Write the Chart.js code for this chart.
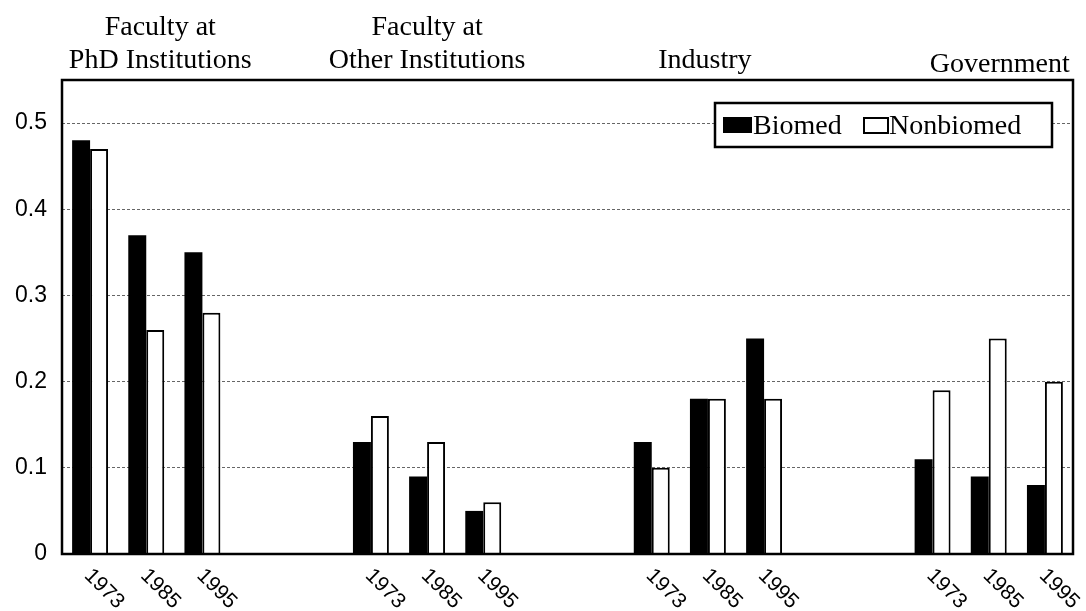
<!DOCTYPE html>
<html>
<head>
<meta charset="utf-8">
<script src="https://cdn.jsdelivr.net/npm/chart.js@4/dist/chart.umd.min.js"></script>
<style>
  body { margin: 0; background: #fff; }
</style>
</head>
<body>
<canvas id="chart" width="1086" height="611"></canvas>
<script>
// Categories: three years per sector, blank slots make the gaps between sectors
const categories = ['1973', '1985', '1995', '', '',
                    '1973', '1985', '1995', '', '',
                    '1973', '1985', '1995', '', '',
                    '1973', '1985', '1995'];

const biomed = [0.48, 0.37, 0.35, null, null,
                0.13, 0.09, 0.05, null, null,
                0.13, 0.18, 0.25, null, null,
                0.11, 0.09, 0.08];

const nonbiomed = [0.47, 0.26, 0.28, null, null,
                   0.16, 0.13, 0.06, null, null,
                   0.10, 0.18, 0.18, null, null,
                   0.19, 0.25, 0.20];

const groupTitles = [
  ['Faculty at', 'PhD Institutions'],
  ['Faculty at', 'Other Institutions'],
  ['Industry'],
  ['Government']
];
const groupMiddles = [1, 6, 11, 16];

const yTicks = [0, 0.1, 0.2, 0.3, 0.4, 0.5];

const serif = '"Liberation Serif", "Times New Roman", serif';
const sans = '"Liberation Sans", Arial, sans-serif';

// Frame, group titles, rotated year labels and the boxed legend
const decorations = {
  id: 'decorations',
  afterDraw(chart) {
    const ctx = chart.ctx;
    const area = chart.chartArea;
    const x = chart.scales.x;
    ctx.save();

    // plot frame
    ctx.strokeStyle = '#000';
    ctx.lineWidth = 2.5;
    ctx.strokeRect(area.left, area.top, area.right - area.left, area.bottom - area.top);

    // group titles above the frame
    const titleShift = [14, 0, -3, 11];
    const titleDrop = [0, 0, 0, 4];
    ctx.fillStyle = '#000';
    ctx.font = '28px ' + serif;
    ctx.textAlign = 'center';
    ctx.textBaseline = 'alphabetic';
    groupTitles.forEach((lines, g) => {
      const cx = x.getPixelForValue(groupMiddles[g]) + titleShift[g];
      const first = lines.length === 2 ? 35 : 68;
      lines.forEach((txt, i) => {
        ctx.fillText(txt, cx, first + i * 33 + titleDrop[g]);
      });
    });

    // year labels, slanted downwards to the right
    ctx.font = '21px ' + sans;
    ctx.textAlign = 'left';
    ctx.textBaseline = 'top';
    categories.forEach((lab, i) => {
      if (!lab) return;
      const px = x.getPixelForValue(i);
      ctx.save();
      ctx.translate(px + 5, area.bottom + 11);
      ctx.rotate(Math.PI / 4);
      ctx.fillText(lab, 0, 0);
      ctx.restore();
    });

    // legend box in the top right corner
    const bx = area.right - 358, by = area.top + 23, bw = 337, bh = 44;
    ctx.fillStyle = '#fff';
    ctx.fillRect(bx, by, bw, bh);
    ctx.lineWidth = 2.5;
    ctx.strokeRect(bx, by, bw, bh);

    ctx.fillStyle = '#000';
    ctx.fillRect(bx + 8, by + 14, 29, 16);
    ctx.lineWidth = 2;
    ctx.strokeRect(bx + 149, by + 15, 24, 15);

    ctx.font = '28px ' + serif;
    ctx.textBaseline = 'alphabetic';
    ctx.fillText('Biomed', bx + 38, by + 31);
    ctx.fillText('Nonbiomed', bx + 174, by + 31);

    ctx.restore();
  }
};

new Chart(document.getElementById('chart'), {
  type: 'bar',
  data: {
    labels: categories,
    datasets: [
      {
        label: 'Biomed',
        data: biomed,
        backgroundColor: '#000',
        borderWidth: 0,
        categoryPercentage: 0.64,
        barPercentage: 1.0
      },
      {
        label: 'Nonbiomed',
        data: nonbiomed,
        backgroundColor: '#fff',
        borderColor: '#000',
        borderWidth: 2,
        categoryPercentage: 0.64,
        barPercentage: 1.0
      }
    ]
  },
  options: {
    responsive: false,
    animation: false,
    layout: { padding: { top: 80, right: 13, left: 0, bottom: 0 } },
    plugins: {
      legend: { display: false },
      tooltip: { enabled: false }
    },
    scales: {
      x: {
        ticks: { display: false },
        grid: { display: false },
        border: { display: false },
        afterFit(scale) { scale.height = 57; }
      },
      y: {
        min: 0,
        max: 0.55,
        afterBuildTicks(scale) {
          scale.ticks = yTicks.map(v => ({ value: v }));
        },
        afterFit(scale) { scale.width = 62; },
        ticks: {
          color: '#000',
          padding: 15,
          font: { family: sans, size: 23 },
          callback: v => (v === 0 ? '0' : v.toFixed(1))
        },
        grid: {
          color: ctx => (ctx.tick && ctx.tick.value === 0 ? 'rgba(0,0,0,0)' : '#666'),
          lineWidth: 1,
          drawTicks: false,
          borderDash: [3, 2]
        },
        border: { display: false, dash: [3, 2] }
      }
    }
  },
  plugins: [decorations]
});
</script>
</body>
</html>
